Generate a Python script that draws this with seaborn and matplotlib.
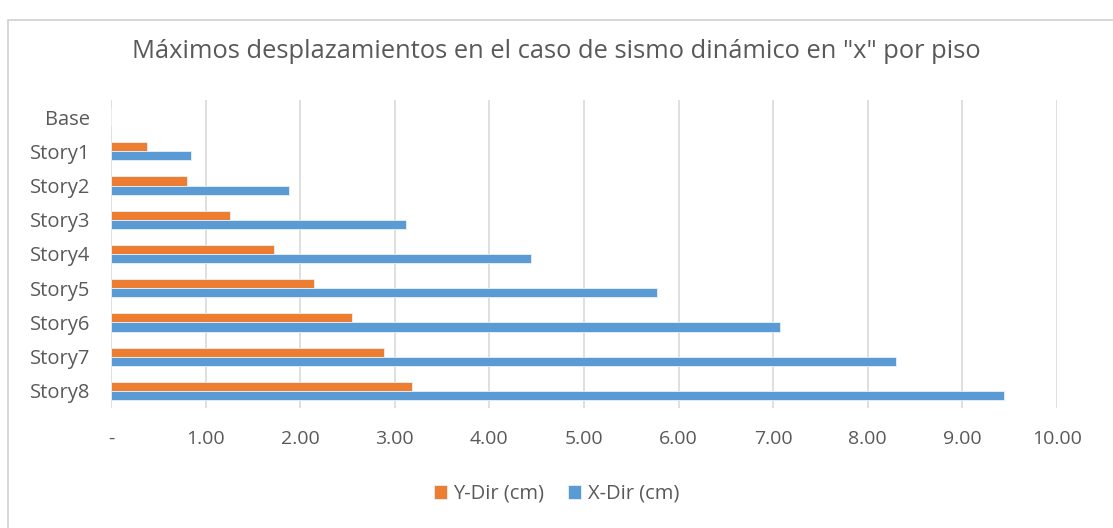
import matplotlib
matplotlib.use("Agg")
import matplotlib.pyplot as plt
from matplotlib.patches import Rectangle
import seaborn as sns
import pandas as pd

# Story levels, top to bottom
stories = ["Base", "Story1", "Story2", "Story3", "Story4",
           "Story5", "Story6", "Story7", "Story8"]
# Maximum displacements (cm)
y_dir = [0.0, 0.38, 0.80, 1.26, 1.72, 2.15, 2.55, 2.89, 3.18]
x_dir = [0.0, 0.85, 1.88, 3.12, 4.44, 5.77, 7.07, 8.30, 9.44]
series = ["Y-Dir (cm)", "X-Dir (cm)"]
x_ticks = [0, 1, 2, 3, 4, 5, 6, 7, 8, 9, 10]
x_tick_labels = ["-", "1.00", "2.00", "3.00", "4.00", "5.00",
                 "6.00", "7.00", "8.00", "9.00", "10.00"]
title = 'Máximos desplazamientos en el caso de sismo dinámico en "x" por piso'

df = pd.DataFrame({
    "piso": stories * 2,
    "valor": y_dir + x_dir,
    "serie": [series[0]] * len(stories) + [series[1]] * len(stories),
})

sns.set_theme(style="white")
plt.rcParams["font.family"] = ["Open Sans", "DejaVu Sans"]

text_color = "#595959"
grid_color = "#D9D9D9"
palette = {series[0]: "#ED7D31", series[1]: "#5B9BD5"}

W, H = 1113, 528
fig = plt.figure(figsize=(W / 100, H / 100), dpi=100)
fig.patch.set_facecolor("white")

# chart frame
fig.patches.append(Rectangle((8 / W, -0.1), 1.2, (H - 20) / H + 0.1,
                             transform=fig.transFigure, fill=False,
                             edgecolor="#D0D0D0", linewidth=1.2, zorder=0))

left, right, top, bottom = 111, 1057, 100, 408
ax = fig.add_axes([left / W, 1 - bottom / H, (right - left) / W, (bottom - top) / H])

sns.barplot(data=df, y="piso", x="valor", hue="serie", order=stories,
            hue_order=series, palette=palette, orient="h", width=0.53,
            gap=0, saturation=1, edgecolor="#E8F0F8", linewidth=0.6,
            legend=True, ax=ax, zorder=3)

ax.set_xlim(0, 10)
ax.set_ylim(len(stories) - 0.5, -0.5)
ax.set_xticks(x_ticks)
ax.set_xticklabels(x_tick_labels)
ax.set_xlabel("")
ax.set_ylabel("")
for s in ax.spines.values():
    s.set_visible(False)
ax.grid(axis="x", color=grid_color, linewidth=1.2, zorder=0)
ax.grid(axis="y", visible=False)
ax.set_axisbelow(True)
ax.tick_params(axis="x", length=0, pad=16, labelsize=14, labelcolor=text_color)
ax.tick_params(axis="y", length=0, pad=15, labelsize=14.5, labelcolor=text_color)

fig.text(0.5, 1 - 52 / H, title, ha="center", va="center",
         fontsize=18.4, color=text_color)

handles, labels = ax.get_legend_handles_labels()
ax.legend_.remove()
fig.legend(handles, labels, loc="center", bbox_to_anchor=(0.5, 1 - 494 / H),
           ncol=2, frameon=False, fontsize=14.5, labelcolor=text_color,
           handlelength=0.65, handleheight=0.65, handletextpad=0.3,
           columnspacing=1.2)

fig.savefig("out.png", dpi=100)
